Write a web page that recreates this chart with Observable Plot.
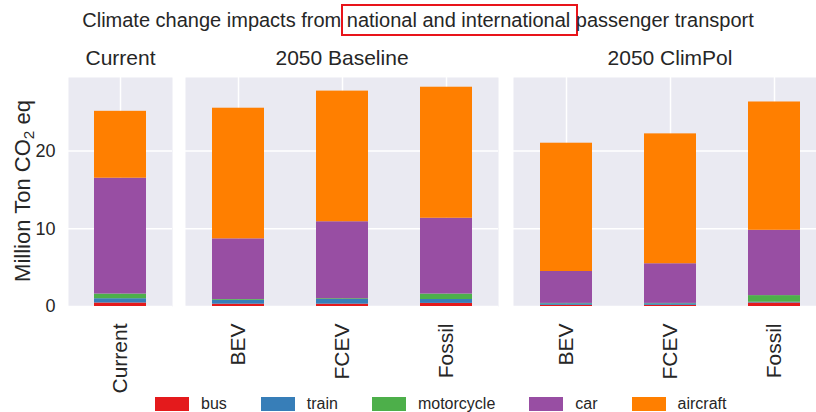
<!DOCTYPE html>
<html><head><meta charset="utf-8">
<script src="https://cdn.jsdelivr.net/npm/d3@7"></script>
<script src="https://cdn.jsdelivr.net/npm/@observablehq/plot@0.6"></script>
<style>
body{margin:0;background:#fff;}
#wrap{position:relative;width:816px;height:412px;overflow:hidden;font-family:"Liberation Sans",Arial,sans-serif;color:#262626;background:#fff;}
.abs{position:absolute;}
#title{left:0;width:836px;top:8px;text-align:center;font-size:20px;line-height:24px;white-space:nowrap;}
#title .box{border:2px solid #e8141a;margin:0 -2px 0 -6px;padding:3px 0 3px 4px;}
#ylab{left:23px;top:191px;transform:translate(-50%,-50%) rotate(-90deg);font-size:22px;line-height:24px;white-space:nowrap;}
#ylab sub{font-size:0.7em;vertical-align:-0.25em;line-height:0;}
#legend{left:155px;top:396px;display:flex;align-items:flex-start;font-size:16px;line-height:16px;white-space:nowrap;}
.item{display:flex;align-items:flex-start;margin-right:34px;}
.sw{width:34px;height:14px;margin-top:1px;margin-right:12px;}
</style>
</head><body>
<div id="wrap">
  <div id="title" class="abs"></div>
  <div id="ylab" class="abs">Million Ton CO<sub>2</sub> eq</div>
  <div id="legend" class="abs"></div>
</div>
<script>
// ---- data ----
const titleBefore = "Climate change impacts from ";
const titleBoxed = "national and international ";
const titleAfter = "passenger transport";
const scenarioNames = ["Current", "2050 Baseline", "2050 ClimPol"];
const scenarioOf = ["Current", "2050 Baseline", "2050 Baseline", "2050 Baseline", "2050 ClimPol", "2050 ClimPol", "2050 ClimPol"];
const modes = ["Current", "BEV", "FCEV", "Fossil", "BEV", "FCEV", "Fossil"];
const types = ["bus", "train", "motorcycle", "car", "aircraft"];
const colors = ["#e41a1c", "#377eb8", "#4daf4a", "#984ea3", "#ff7f00"];
const bus        = [0.45, 0.3, 0.3, 0.4, 0.15, 0.15, 0.45];
const train      = [0.55, 0.5, 0.6, 0.5, 0.2, 0.2, 0.1];
const motorcycle = [0.6, 0.1, 0.1, 0.7, 0.05, 0.05, 0.85];
const car        = [14.9, 7.8, 9.9, 9.75, 4.1, 5.1, 8.4];
const aircraft   = [8.6, 16.8, 16.8, 16.85, 16.5, 16.7, 16.5];
const yTicks = [0, 10, 20];

const series = {bus, train, motorcycle, car, aircraft};
const rows = [];
modes.forEach((m, i) => types.forEach(t => rows.push({scenario: scenarioOf[i], mode: m, type: t, value: series[t][i]})));

// ---- title ----
const title = document.getElementById("title");
title.append(titleBefore);
const box = document.createElement("span"); box.className = "box"; box.textContent = titleBoxed;
title.append(box, titleAfter);

// ---- panels ----
const wrap = document.getElementById("wrap");
const panels = [
  {name: "Current", left: 0, width: 172, marginLeft: 68, yaxis: true},
  {name: "2050 Baseline", left: 185, width: 313, marginLeft: 0, yaxis: false},
  {name: "2050 ClimPol", left: 513, width: 313, marginLeft: 0, yaxis: false}
];
const font = '"Liberation Sans", Arial, sans-serif';
for (const p of panels) {
  const data = rows.filter(r => r.scenario === p.name);
  const dom = modes.filter((m, i) => scenarioOf[i] === p.name);
  const marks = [
    Plot.frame({fill: "#eaeaf2", stroke: "none"}),
    Plot.gridX({stroke: "white", strokeOpacity: 1, strokeWidth: 1.5}),
    Plot.gridY(yTicks, {stroke: "white", strokeOpacity: 1, strokeWidth: 1.5}),
    Plot.barY(data, Plot.stackY({x: "mode", y: "value", fill: "type", order: types})),
    Plot.axisX({tickRotate: -90, tickSize: 0, tickPadding: 17, fontSize: 21, label: null}),
    Plot.text([p.name], {frameAnchor: "top", dy: -19, lineAnchor: "middle", fontSize: 21})
  ];
  if (p.yaxis) marks.push(Plot.axisY(yTicks, {tickSize: 0, tickPadding: 13, fontSize: 18, label: null}));
  const svg = Plot.plot({
    width: p.width, height: 412,
    marginLeft: p.marginLeft, marginRight: 0, marginTop: 77, marginBottom: 106,
    style: {background: "transparent", overflow: "visible", fontFamily: font, color: "#262626"},
    x: {domain: dom, paddingInner: 0.5, paddingOuter: 0.25, axis: null},
    y: {domain: [0, 29.45], axis: null},
    color: {domain: types, range: colors},
    marks
  });
  svg.style.position = "absolute";
  svg.style.left = p.left + "px";
  svg.style.top = "0px";
  svg.style.maxWidth = "none";
  wrap.insertBefore(svg, document.getElementById("ylab"));
}

// ---- legend ----
const legend = document.getElementById("legend");
types.forEach((t, i) => {
  const it = document.createElement("div"); it.className = "item";
  const sw = document.createElement("div"); sw.className = "sw"; sw.style.background = colors[i];
  const tx = document.createElement("span"); tx.textContent = t;
  it.append(sw, tx); legend.append(it);
});
</script>
</body></html>
